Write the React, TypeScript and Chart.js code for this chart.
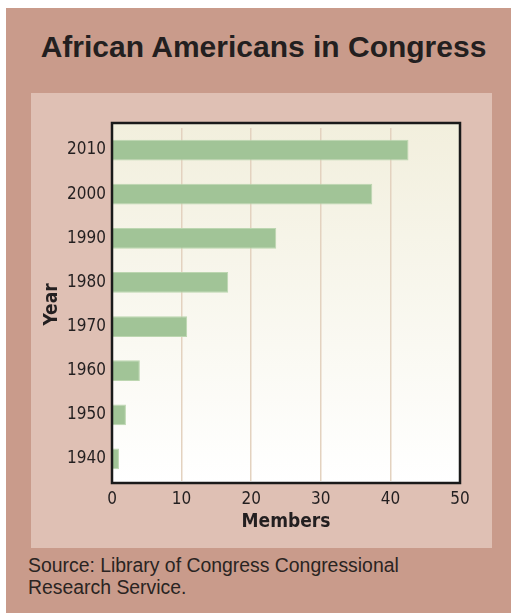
import React, { useEffect, useRef } from "react";
import { Chart, registerables } from "chart.js";

Chart.register(...registerables);

const years = ["2010", "2000", "1990", "1980", "1970", "1960", "1950", "1940"];
const members = [42.6, 37.4, 23.6, 16.7, 10.8, 4.0, 2.0, 1.0];
const xTicks = [0, 10, 20, 30, 40, 50];

const TEXT = "#231f20";
const NARROW = "'Liberation Sans Narrow', 'DejaVu Sans Condensed', 'Liberation Sans', sans-serif";

const plotDecor = {
  id: "plotDecor",
  beforeDraw(chart: any) {
    const { ctx, chartArea } = chart;
    if (!chartArea) return;
    const top = chartArea.top - 5;
    const bottom = chartArea.bottom + 2;
    const g = ctx.createLinearGradient(0, top, 0, bottom);
    g.addColorStop(0, "#f2efdd");
    g.addColorStop(1, "#ffffff");
    ctx.save();
    ctx.fillStyle = g;
    ctx.fillRect(chartArea.left, top, chartArea.right - chartArea.left, bottom - top);
    ctx.restore();
  },
  afterDraw(chart: any) {
    const { ctx, chartArea } = chart;
    const top = chartArea.top - 5;
    const bottom = chartArea.bottom + 2;
    ctx.save();
    ctx.strokeStyle = "#1a1a1a";
    ctx.lineWidth = 2.5;
    ctx.strokeRect(chartArea.left, top, chartArea.right - chartArea.left, bottom - top);
    ctx.restore();
  },
};

function BarChart() {
  const ref = useRef<HTMLCanvasElement | null>(null);
  useEffect(() => {
    if (!ref.current) return;
    const chart = new Chart(ref.current, {
      type: "bar",
      data: {
        labels: years,
        datasets: [
          {
            data: members,
            backgroundColor: "#a1c497",
            borderColor: "#bcd6b0",
            borderWidth: 1,
            barPercentage: 0.47,
            categoryPercentage: 1,
          },
        ],
      },
      options: {
        indexAxis: "y",
        animation: false,
        responsive: false,
        maintainAspectRatio: false,
        layout: { padding: { left: 10, top: 35, right: 32, bottom: 15 } },
        plugins: { legend: { display: false }, tooltip: { enabled: false } },
        scales: {
          x: {
            min: 0,
            max: 50,
            afterBuildTicks: (s: any) => {
              s.ticks = xTicks.map((v) => ({ value: v }));
            },
            afterFit: (s: any) => {
              s.height = 52;
            },
            grid: {
              color: (c: any) => (c.tick && (c.tick.value === 0 || c.tick.value === 50) ? "rgba(0,0,0,0)" : "#e3d2bf"),
              lineWidth: 1.5,
              drawTicks: false,
            },
            border: { display: false },
            ticks: {
              color: TEXT,
              padding: 8,
              font: { family: NARROW, size: 17 },
            },
            title: {
              display: true,
              text: "Members",
              color: TEXT,
              font: { family: NARROW, size: 19, weight: "bold" },
              padding: { top: 0, bottom: 0 },
            },
          },
          y: {
            afterFit: (s: any) => {
              s.width = 71;
            },
            grid: { display: false, drawTicks: false },
            border: { display: false },
            ticks: {
              color: TEXT,
              padding: 6,
              font: { family: NARROW, size: 17 },
            },
            title: {
              display: true,
              text: "Year",
              color: TEXT,
              font: { family: NARROW, size: 19, weight: "bold" },
              padding: { top: 0, bottom: 0 },
            },
          },
        },
      },
      plugins: [plotDecor],
    });
    return () => chart.destroy();
  }, []);
  return <canvas ref={ref} width={461} height={455} style={{ display: "block" }} />;
}

export default function App() {
  return (
    <div style={{ position: "absolute", left: 0, top: 0, width: 511, height: 613, background: "#ffffff" }}>
      <div style={{ position: "absolute", left: 6, top: 8, width: 505, height: 605, background: "#c99b8b" }} />
      <div
        style={{
          position: "absolute",
          left: 0,
          top: 28,
          width: 527,
          textAlign: "center",
          fontFamily: "'Liberation Sans', Arial, sans-serif",
          fontWeight: "bold",
          fontSize: 30,
          lineHeight: "38px",
          color: TEXT,
          whiteSpace: "nowrap",
        }}
      >
        African Americans in Congress
      </div>
      <div style={{ position: "absolute", left: 31, top: 93, width: 461, height: 455, background: "#dfc0b4" }}>
        <BarChart />
      </div>
      <div
        style={{
          position: "absolute",
          left: 28,
          top: 554,
          fontFamily: "'Liberation Sans', Arial, sans-serif",
          fontSize: 19.4,
          lineHeight: "22px",
          color: "#2a2422",
          whiteSpace: "nowrap",
        }}
      >
        Source: Library of Congress Congressional
        <br />
        Research Service.
      </div>
    </div>
  );
}
